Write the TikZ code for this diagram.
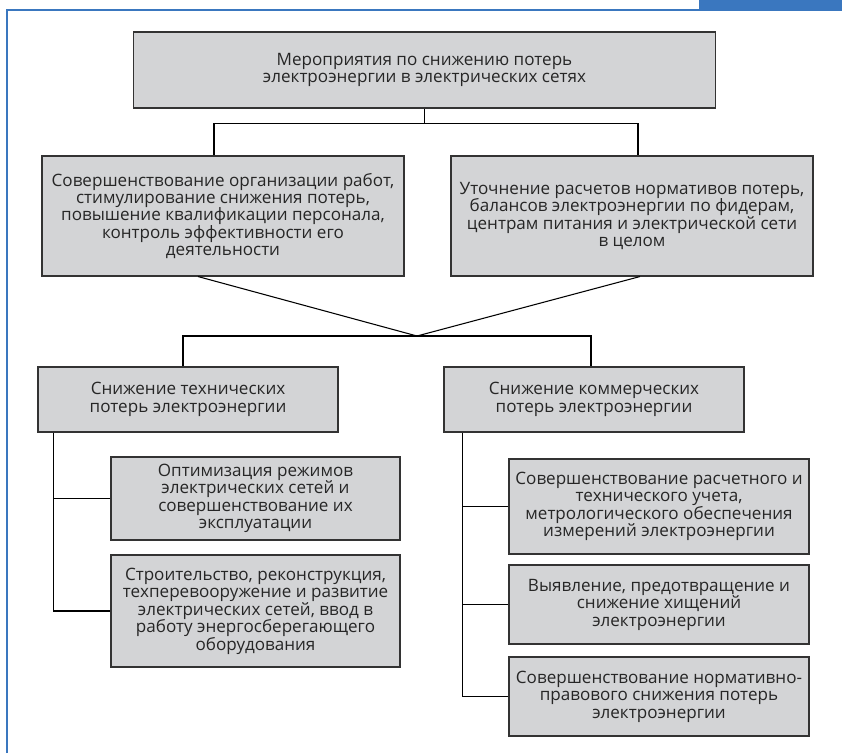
\documentclass[tikz,border=0pt]{standalone}
\usepackage{fontspec}
\setmainfont{Open Sans}
\usetikzlibrary{calc}
\definecolor{boxgray}{HTML}{D3D4D6}
\definecolor{frameblue}{HTML}{3A77BF}
\definecolor{textgray}{HTML}{262626}

\begin{document}
\begin{tikzpicture}[x=0.75pt,y=-0.75pt,font=\fontsize{12.8}{13.1}\selectfont,line width=0.8pt]
        \tikzset{box/.style={draw=black!80, fill=boxgray, text=textgray, align=center, inner sep=1pt}}
        \useasboundingbox (0,0) rectangle (842,753);
        % frame
        \draw[frameblue, line width=1.2pt] (7,753) -- (7,10) -- (699,10);
        \fill[frameblue] (699,0) rectangle (842,10.5);
        % boxes
        \node[box, minimum width=437pt, minimum height=57pt] (top) at (424.5,70) {Мероприятия по снижению потерь\\электроэнергии в электрических сетях};
        \node[box, minimum width=271.5pt, minimum height=90pt] (org) at (223,216) {Совершенствование организации работ,\\стимулирование снижения потерь,\\повышение квалификации персонала,\\контроль эффективности его\\деятельности};
        \node[box, minimum width=271.5pt, minimum height=90pt] (calc) at (632,216) {Уточнение расчетов нормативов потерь,\\балансов электроэнергии по фидерам,\\центрам питания и электрической сети\\в целом};
        \node[box, minimum width=225pt, minimum height=48.75pt] (tech) at (188,399.5) {Снижение технических\\потерь электроэнергии};
        \node[box, minimum width=225pt, minimum height=48.75pt] (comm) at (594,399.5) {Снижение коммерческих\\потерь электроэнергии};
        \node[box, minimum width=216.75pt, minimum height=62.25pt] (opt) at (255.5,498.5) {Оптимизация режимов\\электрических сетей и\\совершенствование их\\эксплуатации};
        \node[box, minimum width=216.75pt, minimum height=84pt] (build) at (255.5,611) {Строительство, реконструкция,\\техперевооружение и развитие\\электрических сетей, ввод в\\работу энергосберегающего\\оборудования};
        \node[box, minimum width=225pt, minimum height=71.25pt] (meter) at (659,506.5) {Совершенствование расчетного и\\технического учета,\\метрологического обеспечения\\измерений электроэнергии};
        \node[box, minimum width=225pt, minimum height=59.25pt] (theft) at (659,604.5) {Выявление, предотвращение и\\снижение хищений\\электроэнергии};
        \node[box, minimum width=225pt, minimum height=59.25pt] (norm) at (659,696.5) {Совершенствование нормативно-\\правового снижения потерь\\электроэнергии};
        % connectors
        \draw (top.south) -- ++(0,15) coordinate (split);
        \draw ($(org.north)+(-9,0)$) |- (split) -| ($(calc.north)+(6,0)$);
        \coordinate (hub) at (417,336);
        \draw ($(org.south)+(-25,0)$) -- (hub) -- ($(calc.south)+(8,0)$);
        \draw ($(tech.north)+(-5,0)$) |- (hub) -| ($(comm.north)+(-3,0)$);
        \coordinate (techtrunk) at ($(tech.south west)+(16,0)$);
        \draw (techtrunk) |- (build.west);
        \draw (techtrunk |- opt.west) -- (opt.west);
        \coordinate (commtrunk) at ($(comm.south west)+(19,0)$);
        \draw (commtrunk) |- (norm.west);
        \draw (commtrunk |- meter.west) -- (meter.west);
        \draw (commtrunk |- theft.west) -- (theft.west);
\end{tikzpicture}
\end{document}
